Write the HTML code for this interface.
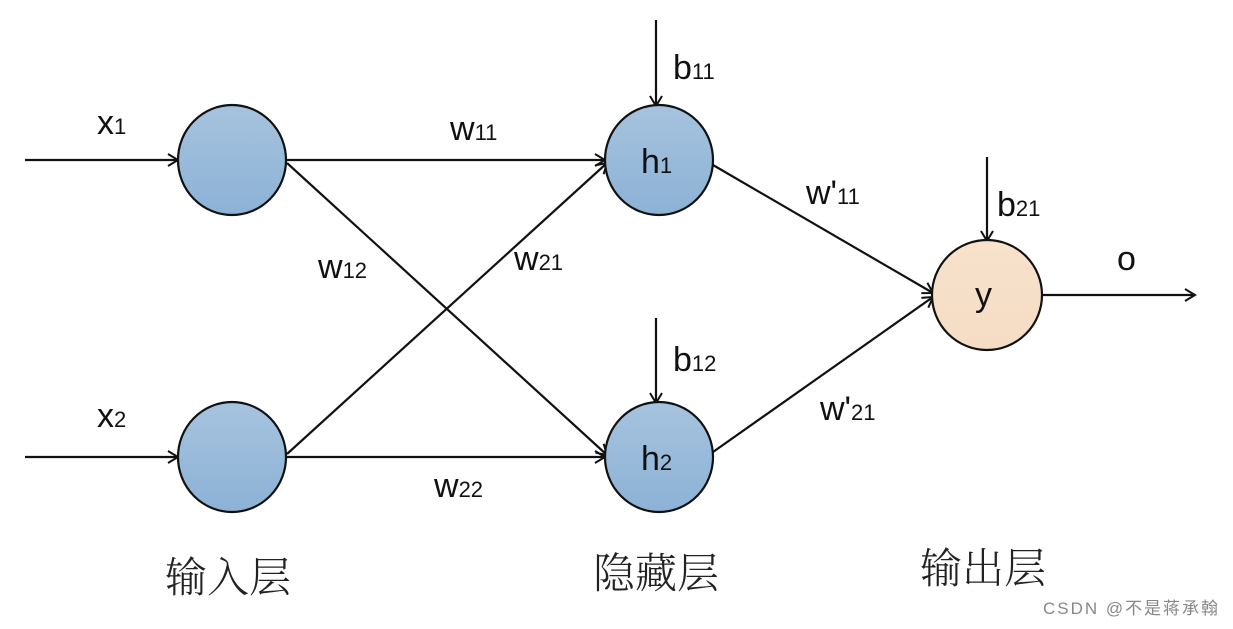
<!DOCTYPE html>
<html><head><meta charset="utf-8"><style>
html,body{margin:0;padding:0;background:#fff;}
svg{display:block;}
.l{font-family:"Liberation Sans",sans-serif;font-size:34px;fill:#111;}
.s{font-size:22px;}
.c{font-family:"Noto Serif CJK SC","Liberation Serif",serif;font-size:42px;fill:#222;font-weight:300;}
</style></head><body>
<svg width="1233" height="629" viewBox="0 0 1233 629" xmlns="http://www.w3.org/2000/svg">
<defs>
<marker id="a" markerWidth="14" markerHeight="14" refX="12" refY="7" orient="auto" markerUnits="userSpaceOnUse">
<path d="M2,1 L12,7 L2,13" fill="none" stroke="#111" stroke-width="2"/>
</marker>
<linearGradient id="g" x1="0" y1="0" x2="0" y2="1"><stop offset="0" stop-color="#a6c3de"/><stop offset="1" stop-color="#8cb2d6"/></linearGradient>
<linearGradient id="o" x1="0" y1="0" x2="0" y2="1"><stop offset="0" stop-color="#f8e2cc"/><stop offset="1" stop-color="#f5dcc4"/></linearGradient>
</defs>
<g stroke="#111" stroke-width="2.2" fill="none">
<line x1="25" y1="160" x2="178" y2="160" marker-end="url(#a)"/>
<line x1="25" y1="457" x2="178" y2="457" marker-end="url(#a)"/>
<line x1="287" y1="160" x2="605" y2="160" marker-end="url(#a)"/>
<line x1="287" y1="457" x2="605" y2="457" marker-end="url(#a)"/>
<line x1="287" y1="163" x2="607" y2="455" marker-end="url(#a)"/>
<line x1="287" y1="454" x2="607" y2="163" marker-end="url(#a)"/>
<line x1="713" y1="165" x2="933" y2="293" marker-end="url(#a)"/>
<line x1="713" y1="452" x2="933" y2="297" marker-end="url(#a)"/>
<line x1="656" y1="20" x2="656" y2="106" marker-end="url(#a)"/>
<line x1="656" y1="318" x2="656" y2="403" marker-end="url(#a)"/>
<line x1="987" y1="157" x2="987" y2="241" marker-end="url(#a)"/>
<line x1="1042" y1="295" x2="1195" y2="295" marker-end="url(#a)"/>
</g>
<g stroke="#111" stroke-width="2.2">
<ellipse cx="232" cy="160" rx="54" ry="55" fill="url(#g)"/>
<ellipse cx="232" cy="457" rx="54" ry="55" fill="url(#g)"/>
<ellipse cx="659" cy="160" rx="54" ry="55" fill="url(#g)"/>
<ellipse cx="659" cy="457" rx="54" ry="55" fill="url(#g)"/>
<ellipse cx="987" cy="295" rx="55" ry="55" fill="url(#o)"/>
</g>
<text class="l" x="97" y="134">x<tspan class="s">1</tspan></text>
<text class="l" x="97" y="427">x<tspan class="s">2</tspan></text>
<text class="l" x="450" y="140">w<tspan class="s">11</tspan></text>
<text class="l" x="318" y="278">w<tspan class="s">12</tspan></text>
<text class="l" x="514" y="270">w<tspan class="s">21</tspan></text>
<text class="l" x="434" y="497">w<tspan class="s">22</tspan></text>
<text class="l" x="641" y="173">h<tspan class="s">1</tspan></text>
<text class="l" x="641" y="470">h<tspan class="s">2</tspan></text>
<text class="l" x="975" y="306">y</text>
<text class="l" x="673" y="79">b<tspan class="s">11</tspan></text>
<text class="l" x="673" y="371">b<tspan class="s">12</tspan></text>
<text class="l" x="997" y="216">b<tspan class="s">21</tspan></text>
<text class="l" x="806" y="204">w'<tspan class="s">11</tspan></text>
<text class="l" x="820" y="420">w'<tspan class="s">21</tspan></text>
<text class="l" x="1117" y="270">o</text>
<text class="c" x="165" y="592">输入层</text>
<text class="c" x="593" y="588">隐藏层</text>
<text class="c" x="920" y="583">输出层</text>
<text x="1043" y="614" textLength="175" style="font-family:'Liberation Sans','Noto Sans CJK SC',sans-serif;font-size:17px;fill:#888;">CSDN @不是蒋承翰</text>
</svg>
</body></html>
